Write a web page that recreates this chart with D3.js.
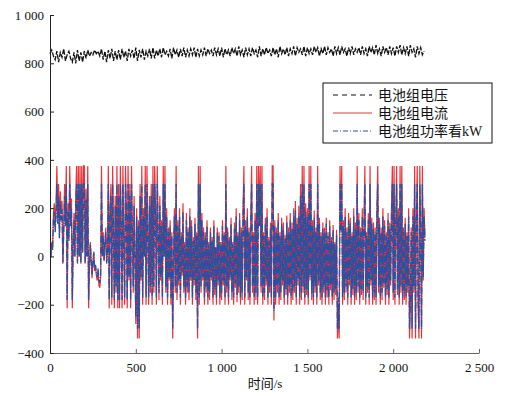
<!DOCTYPE html>
<html>
<head>
<meta charset="utf-8">
<script src="https://cdn.jsdelivr.net/npm/d3@7"></script>
<style>
  html, body { margin: 0; padding: 0; background: #fff; }
  svg { display: block; }
</style>
</head>
<body>
<svg id="chart" width="509" height="396"></svg>
<script>
// sampling steps (s)
const dtCurrent = 5;
const dtVoltage = 10;

// battery pack voltage (V), one value every 10 s
const voltage = [
  840, 855, 830, 815, 850, 805, 845, 825, 860, 810, 835, 850, 820, 805, 845, 800, 855, 810, 845, 805,
  850, 820, 855, 830, 845, 835, 855, 840, 850, 830, 860, 815, 850, 805, 855, 820, 860, 810, 850, 815,
  855, 815, 860, 825, 850, 810, 860, 830, 855, 820, 865, 810, 855, 825, 860, 815, 850, 830, 860, 820,
  865, 820, 855, 830, 860, 825, 865, 835, 850, 830, 860, 820, 865, 835, 855, 825, 860, 830, 865, 825,
  855, 830, 860, 835, 865, 825, 860, 830, 855, 835, 865, 830, 860, 840, 855, 830, 865, 835, 860, 830,
  865, 825, 860, 835, 855, 830, 865, 840, 860, 830, 870, 835, 855, 825, 865, 835, 860, 830, 865, 840,
  855, 825, 870, 830, 860, 835, 865, 840, 855, 830, 865, 835, 860, 825, 870, 840, 860, 835, 865, 830,
  860, 840, 870, 830, 865, 845, 860, 835, 870, 830, 865, 840, 860, 835, 870, 845, 865, 830, 860, 840,
  870, 835, 865, 845, 860, 830, 870, 840, 865, 835, 870, 845, 860, 830, 865, 840, 870, 835, 860, 845,
  865, 835, 870, 840, 860, 830, 870, 845, 865, 835, 875, 840, 860, 830, 870, 845, 865, 835, 870, 840,
  865, 830, 870, 845, 875, 835, 865, 840, 870, 830, 875, 845, 860, 825, 870, 840, 865, 835, 850
];

// battery pack current (A), one value every 5 s
const current = [
  0, 0, 60, 30, 180, 220, 120, 200, 375, 160, 300, 90, 270, 180, 230, -30, 120, 300, 150, 375,
  -215, 220, 80, 375, 150, 240, -215, 60, 180, 0, 250, 375, -30, 375, 0, 375, -30, 375, 20, 375,
  375, -30, 280, 0, 375, -215, -40, 60, -20, -90, -30, 20, -60, -40, -80, -100, -60, -120, -130, -90,
  375, 0, 100, -20, 60, 120, -30, 20, 375, -215, 200, 300, -200, 375, 100, -215, 250, -150, 375, -215,
  300, -215, 375, 150, -215, 375, 50, -200, 375, 200, -215, 375, -100, 300, -215, 375, 100, -150, 250, 0,
  -280, 200, -340, 150, -340, 300, -100, 375, -200, 200, 0, 375, -200, 375, 100, -200, 250, -150, 300, -200,
  375, -150, 375, 200, -200, 375, 100, -180, 250, -100, 150, -200, 375, 0, 375, -150, 200, -200, 120, -100,
  150, -200, 100, -340, 0, 200, -150, 375, -180, 150, -120, 200, -200, 100, -80, 220, -150, 60, -200, 180,
  -150, 120, -180, 200, -100, 150, -200, 80, -120, 160, -180, 100, -340, 375, -200, 375, -150, 180, -100, 120,
  -200, 100, -150, 150, -200, 60, -180, 120, -100, 80, -200, 150, -160, 40, -200, 120, -120, 100, -200, 60,
  -180, 150, -120, 100, -200, 375, -150, 120, -200, 80, -100, 160, -180, 60, -200, 140, -130, 200, -190, 100,
  -150, 180, -200, 120, -180, 200, 375, -200, 150, -100, 200, -180, 120, -200, 160, 375, -150, 100, -200, 180,
  -180, 375, -200, 375, 150, 375, -150, 375, -200, 100, -180, 160, -120, 200, -200, 80, -150, 140, -200, 375,
  375, -265, 150, -200, 120, -150, 180, -200, 100, -180, 160, -120, 140, -200, 90, -160, 170, -200, 120, -150,
  180, -200, 140, -180, 200, -150, 230, -200, 160, -120, 210, -200, 300, -180, 375, -150, 375, -200, 220, -160,
  200, -200, 375, -100, 375, -180, 150, -200, 190, -150, 120, -200, 375, -120, 160, -180, 100, -200, 140, -150,
  120, -200, 160, -170, 100, -200, 150, -140, 80, -200, 130, -180, 60, -160, 110, -340, -200, -340, 375, 120,
  375, -200, 150, -180, 200, -150, 120, -200, 180, -120, 160, -200, 100, -160, 200, -200, 140, -180, 375, -150,
  180, -200, 120, -160, 200, -180, 150, 375, -200, 100, -150, 180, -200, 375, -120, 160, -200, 140, -180, 120,
  -200, 200, 375, -150, 160, -200, 120, -180, 200, -130, 150, -200, 100, -160, 180, -200, 140, -120, 200, 375,
  -180, 375, -200, 150, 375, -160, 200, -200, 375, -150, 375, -200, 120, -180, 160, -200, 100, -150, 200, -340,
  -200, 120, -340, 200, -150, 375, -340, 160, 375, -200, -340, 375, 100, -340, 375, -100, 200, 80
];

// battery pack power (kW), one value every 5 s
const power = [
  0, 0, 50, 25, 150, 185, 100, 170, 300, 135, 250, 75, 225, 150, 195, -25, 100, 250, 125, 300,
  -180, 185, 65, 300, 125, 200, -180, 50, 150, 0, 210, 300, -25, 300, 0, 300, -25, 300, 15, 300,
  300, -25, 235, 0, 300, -180, -35, 50, -15, -75, -25, 15, -50, -35, -65, -85, -50, -100, -110, -75,
  300, 0, 85, -15, 50, 100, -25, 15, 300, -180, 165, 250, -170, 300, 85, -180, 210, -125, 300, -180,
  250, -180, 300, 125, -180, 300, 40, -170, 300, 165, -180, 300, -85, 250, -180, 300, 85, -125, 210, 0,
  -250, 165, -300, 125, -300, 250, -85, 300, -170, 165, 0, 300, -170, 300, 85, -170, 210, -125, 250, -170,
  300, -125, 300, 165, -170, 300, 85, -150, 210, -85, 125, -170, 300, 0, 300, -125, 165, -170, 100, -85,
  125, -170, 85, -300, 0, 165, -125, 300, -150, 125, -100, 165, -170, 85, -65, 185, -125, 50, -170, 150,
  -125, 100, -150, 165, -85, 125, -170, 65, -100, 135, -150, 85, -300, 300, -170, 300, -125, 150, -85, 100,
  -170, 85, -125, 125, -170, 50, -150, 100, -85, 65, -170, 125, -135, 35, -170, 100, -100, 85, -170, 50,
  -150, 125, -100, 85, -170, 300, -125, 100, -170, 65, -85, 135, -150, 50, -170, 115, -110, 165, -160, 85,
  -125, 150, -170, 100, -150, 165, 300, -170, 125, -85, 165, -150, 100, -170, 135, 300, -125, 85, -170, 150,
  -150, 300, -170, 300, 125, 300, -125, 300, -170, 85, -150, 135, -100, 165, -170, 65, -125, 115, -170, 300,
  300, -225, 125, -170, 100, -125, 150, -170, 85, -150, 135, -100, 115, -170, 75, -135, 140, -170, 100, -125,
  150, -170, 115, -150, 165, -125, 190, -170, 135, -100, 175, -170, 250, -150, 300, -125, 300, -170, 185, -135,
  165, -170, 300, -85, 300, -150, 125, -170, 160, -125, 100, -170, 300, -100, 135, -150, 85, -170, 115, -125,
  100, -170, 135, -140, 85, -170, 125, -115, 65, -170, 110, -150, 50, -135, 90, -300, -170, -300, 300, 100,
  300, -170, 125, -150, 165, -125, 100, -170, 150, -100, 135, -170, 85, -135, 165, -170, 115, -150, 300, -125,
  150, -170, 100, -135, 165, -150, 125, 300, -170, 85, -125, 150, -170, 300, -100, 135, -170, 115, -150, 100,
  -170, 165, 300, -125, 135, -170, 100, -150, 165, -110, 125, -170, 85, -135, 150, -170, 115, -100, 165, 300,
  -150, 300, -170, 125, 300, -135, 165, -170, 300, -125, 300, -170, 100, -150, 135, -170, 85, -125, 165, -300,
  -170, 100, -300, 165, -125, 300, -300, 135, 300, -170, -300, 300, 85, -300, 300, -85, 165, 65
];

const xTicks = [0, 500, 1000, 1500, 2000, 2500];
const yTicks = [-400, -200, 0, 200, 400, 600, 800, 1000];
const legendLabels = ['电池组电压', '电池组电流', '电池组功率看kW'];

const svg = d3.select('#chart');
const margin = { top: 15, right: 30, bottom: 43, left: 50 };
const width = 509, height = 396;

const x = d3.scaleLinear().domain([0, 2500]).range([margin.left, width - margin.right]);
const y = d3.scaleLinear().domain([-400, 1000]).range([height - margin.bottom, margin.top]);

const fmt = d => d3.format(',')(d).replace(/,/g, ' ');
const serif = "'Liberation Serif', 'Times New Roman', 'Noto Sans CJK SC', serif";

// series
const lineV = d3.line().x((d, i) => x(i * dtVoltage)).y(d => y(d));
const lineI = d3.line().x((d, i) => x(i * dtCurrent)).y(d => y(d));

svg.append('path')
  .attr('d', lineV(voltage))
  .attr('fill', 'none')
  .attr('stroke', '#111')
  .attr('stroke-width', 1.3)
  .attr('stroke-dasharray', '5,1.5');

svg.append('path')
  .attr('d', lineI(current))
  .attr('fill', 'none')
  .attr('stroke', '#e8333a')
  .attr('stroke-width', 1.2);

svg.append('path')
  .attr('d', lineI(power))
  .attr('fill', 'none')
  .attr('stroke', '#2c4fa0')
  .attr('stroke-width', 1.4)
  .attr('stroke-dasharray', '7,1.5,1,1.5');

// axes (ticks point inward)
const gx = svg.append('g')
  .attr('transform', `translate(0,${y(-400)})`)
  .call(d3.axisBottom(x).tickValues(xTicks).tickFormat(fmt).tickSizeInner(-4).tickSizeOuter(0).tickPadding(10));
gx.select('.domain').attr('stroke', '#666');
gx.selectAll('.tick line').attr('stroke', '#666');
gx.selectAll('text').style('font-family', serif).style('font-size', '13px').attr('fill', '#111');

const gy = svg.append('g')
  .attr('transform', `translate(${x(0)},0)`)
  .call(d3.axisLeft(y).tickValues(yTicks).tickFormat(fmt).tickSizeInner(-4).tickSizeOuter(0).tickPadding(6));
gy.select('.domain').attr('stroke', '#222');
gy.selectAll('.tick line').attr('stroke', '#222');
gy.selectAll('text').style('font-family', serif).style('font-size', '13px').attr('fill', '#111');

svg.append('text')
  .attr('x', 265)
  .attr('y', 388)
  .attr('text-anchor', 'middle')
  .style('font-family', serif)
  .style('font-size', '13px')
  .attr('fill', '#111')
  .text('时间/s');

// legend
const legend = svg.append('g').attr('transform', 'translate(323,83)');
legend.append('rect')
  .attr('width', 169).attr('height', 60)
  .attr('fill', '#fff').attr('stroke', '#111').attr('stroke-width', 1);

const legendStyles = [
  { stroke: '#111', dash: '5,4' },
  { stroke: '#e8333a', dash: null },
  { stroke: '#2c4fa0', dash: '5,2,1,2' }
];
legendLabels.forEach((label, i) => {
  const cy = 12 + i * 18;
  legend.append('line')
    .attr('x1', 10).attr('x2', 49).attr('y1', cy).attr('y2', cy)
    .attr('stroke', legendStyles[i].stroke)
    .attr('stroke-width', 1)
    .attr('stroke-dasharray', legendStyles[i].dash);
  legend.append('text')
    .attr('x', 55).attr('y', cy + 5)
    .style('font-family', serif)
    .style('font-size', '14px')
    .attr('fill', '#111')
    .text(label);
});
</script>
</body>
</html>
